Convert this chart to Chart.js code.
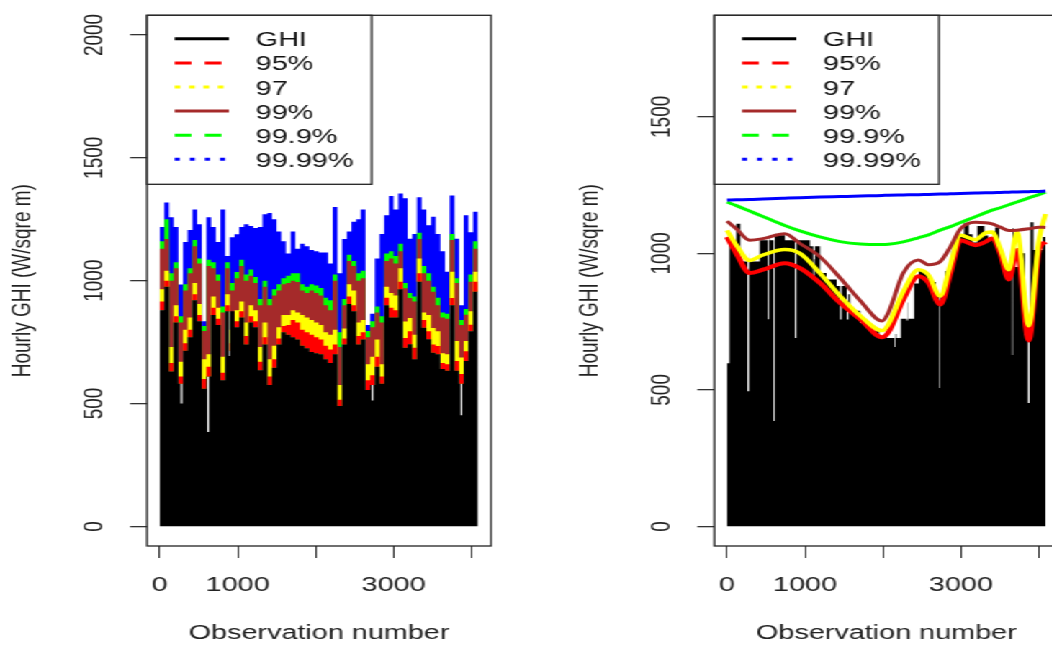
<!DOCTYPE html>
<html>
<head>
<meta charset="utf-8">
<title>Hourly GHI quantiles</title>
<script src="https://cdn.jsdelivr.net/npm/chart.js@4.4.1/dist/chart.umd.min.js"></script>
<style>
  html, body { margin: 0; padding: 0; background: #fff; overflow: hidden; }
  /* the reference is an R plot stretched sideways, so the whole stage is stretched too */
  #stage { position: relative; width: 760px; height: 645px; transform: scaleX(1.44); transform-origin: 0 0; }
  .panel { position: absolute; top: 0; width: 362px; height: 645px; }
  #leftPanel { left: 0; }
  #rightPanel { left: 394.4px; }
</style>
</head>
<body>
<div id="stage">
  <div class="panel" id="leftPanel"><canvas id="leftChart"></canvas></div>
  <div class="panel" id="rightPanel"><canvas id="rightChart"></canvas></div>
</div>
<script>
// ---- data ----
const legendLabels = ['GHI', '95%', '97', '99%', '99.9%', '99.99%'];
const xTicks = [0, 1000, 2000, 3000, 4000];
const xTickLabels = ['0', '1000', '', '3000', ''];
const yTicksLeft = [0, 500, 1000, 1500, 2000];
const yTicksRight = [0, 500, 1000, 1500];

// left panel: daily envelopes, one value per 60 observations
const leftStep = 60;
const leftGhi = [880, 975, 630, 830, 580, 715, 770, 920, 835, 560, 610, 860, 820, 595, 875, 715, 810, 850, 740, 830,
  810, 635, 740, 575, 645, 740, 790, 780, 770, 760, 735, 725, 710, 705, 700, 680, 665, 700, 490, 740,
  905, 875, 740, 760, 555, 575, 650, 580, 900, 850, 850, 965, 727, 741, 680, 996, 808, 762, 707, 700,
  640, 633, 900, 633, 580, 673, 794, 955, 955];
const leftGhiDips = [[269, 500], [611, 384], [885, 693], [2718, 512], [3859, 452]];
const leftQ95 = [915, 1000, 665, 855, 610, 745, 800, 945, 860, 600, 650, 890, 845, 625, 900, 745, 835, 875, 775, 855,
  835, 670, 770, 610, 680, 765, 815, 820, 840, 830, 800, 790, 780, 770, 760, 735, 720, 740, 515, 765,
  935, 900, 775, 790, 595, 615, 690, 610, 930, 890, 880, 996, 767, 794, 727, 1030, 840, 794, 740, 734,
  665, 660, 929, 673, 620, 713, 821, 996, 996];
const leftQ97 = [965, 1040, 730, 900, 670, 800, 850, 990, 905, 680, 700, 935, 890, 690, 945, 800, 880, 915, 830, 900,
  880, 730, 830, 680, 735, 810, 860, 860, 880, 870, 860, 850, 840, 830, 820, 790, 780, 800, 575, 805,
  985, 960, 830, 840, 660, 690, 760, 660, 975, 950, 940, 1050, 834, 848, 780, 1090, 870, 860, 807, 794,
  705, 700, 1036, 754, 687, 754, 875, 1036, 1036];
const leftQ99 = [1130, 1170, 1000, 1050, 830, 960, 1030, 1140, 1070, 795, 1060, 1050, 1000, 870, 1050, 960, 1010, 1060, 1000, 1020,
  990, 900, 975, 900, 940, 960, 985, 990, 1000, 995, 960, 950, 960, 950, 940, 900, 880, 1000, 730, 900,
  1080, 1060, 1000, 1010, 770, 810, 870, 830, 1080, 1090, 1070, 1120, 969, 929, 915, 1170, 1030, 1000, 955, 900,
  850, 845, 1165, 990, 820, 861, 996, 1130, 1130];
const leftQ999 = [1160, 1250, 1030, 1075, 855, 985, 1050, 1165, 1090, 815, 1085, 1075, 1025, 895, 1075, 990, 1035, 1085, 1025, 1045,
  1015, 925, 1000, 925, 965, 985, 1010, 1020, 1030, 1030, 985, 975, 985, 980, 970, 930, 920, 1025, 790, 925,
  1105, 1080, 1030, 1040, 795, 835, 895, 855, 1110, 1120, 1100, 1150, 990, 950, 935, 1195, 1060, 1030, 975, 930,
  870, 865, 1190, 1010, 840, 885, 1025, 1160, 1160];
const leftQ9999 = [1218, 1318, 1258, 1218, 984, 1157, 1206, 1290, 1230, 835, 1258, 1218, 1157, 1290, 1100, 1177, 1189, 1218, 1230, 1222,
  1214, 1218, 1270, 1275, 1250, 1200, 1160, 1110, 1200, 1130, 1150, 1140, 1125, 1120, 1115, 1115, 1070, 1300, 1030, 1170,
  1200, 1240, 1250, 1290, 820, 865, 1090, 1190, 1266, 1345, 1290, 1355, 1335, 1171, 1190, 1339, 1290, 1225, 1260, 1190,
  1120, 1036, 1347, 1171, 900, 1266, 1197, 1280, 1280];

// right panel: GHI envelope and smoothed quantile curves
const rightGhiObs = [0, 30, 120, 172, 283, 420, 540, 613, 742, 891, 1063, 1120, 1192, 1277, 1406, 1470, 1578, 1707, 1850, 1950,
  2050, 2160, 2230, 2320, 2400, 2460, 2530, 2600, 2680, 2730, 2800, 2880, 2960, 3040, 3100, 3150, 3210, 3300, 3350, 3440,
  3490, 3550, 3600, 3665, 3760, 3820, 3890, 3930, 4000, 4050, 4085];
const rightGhiVals = [597, 1036, 1108, 970, 1000, 1048, 1066, 1072, 1048, 1012, 1026, 978, 928, 904, 880, 850, 790, 745, 715, 695,
  690, 705, 760, 820, 890, 935, 925, 895, 850, 835, 935, 1010, 1060, 1111, 1070, 1040, 1100, 1065, 1050, 1095,
  1000, 960, 950, 1092, 1000, 700, 1114, 1012, 1012, 1060, 1060];
const rightGhiDips = [[262, 495], [523, 759], [597, 386], [870, 690], [1106, 904], [1449, 758], [1535, 758],
  [2148, 657], [2302, 754], [2720, 507], [3656, 628], [3858, 452]];
const rightCurveObs = [0, 120, 290, 460, 740, 935, 1190, 1450, 1710, 1990, 2070, 2260, 2455, 2585, 2735, 2865, 2995,
  3185, 3315, 3400, 3505, 3615, 3720, 3870, 4000, 4085];
const rightQ95 = [1060, 1000, 928, 940, 964, 946, 892, 819, 759, 693, 711, 831, 916, 892, 813, 928, 1048,
  1030, 1042, 1054, 1000, 904, 1012, 681, 1012, 1042];
const rightQ97 = [1084, 1030, 974, 994, 1014, 1000, 928, 844, 771, 717, 740, 860, 940, 920, 844, 958, 1066,
  1050, 1075, 1078, 1018, 940, 1078, 735, 1048, 1144];
const rightQ99 = [1118, 1090, 1048, 1054, 1072, 1036, 988, 910, 826, 752, 783, 928, 976, 958, 970, 1024, 1090,
  1114, 1112, 1108, 1096, 1084, 1085, 1090, 1096, 1095];
const rightQ999 = [1188, 1175, 1155, 1135, 1102, 1082, 1060, 1043, 1034, 1032, 1033, 1042, 1057, 1068, 1085, 1098, 1113,
  1134, 1149, 1158, 1167, 1178, 1188, 1203, 1215, 1224];
const rightQ9999 = [1195, 1196, 1197, 1199, 1202, 1204, 1206, 1208, 1210, 1212, 1213, 1214, 1215, 1216, 1217, 1218, 1219,
  1221, 1222, 1222, 1223, 1224, 1225, 1226, 1227, 1228];

// ---- styles ----
const seriesColors = ['#000000', '#ff0000', '#ffff00', '#a52a2a', '#00ff00', '#0000ff'];
const legendDashes = [[], [11.6, 9.3], [4, 6], [], [11.6, 9.3], [3.5, 7]];
const FONT = "'Liberation Sans', Arial, sans-serif";
Chart.defaults.font.family = FONT;
Chart.defaults.color = '#222';

function toPoints(obs, vals) {
  return obs.map((x, i) => ({x: x, y: vals[i]}));
}

// low days show up as thin white gaps cut into the black
function withDips(obs, vals, dips) {
  const pts = toPoints(obs, vals);
  dips.forEach(([d, low]) => {
    let j = 0;
    while (j + 1 < obs.length && obs[j + 1] <= d) j++;
    pts.push({x: d, y: low}, {x: d + 22, y: vals[j]});
  });
  return pts.sort((a, b) => a.x - b.x);
}

const leftObs = leftGhi.map((_, i) => i * leftStep);

// box round the plot and the R style legend in its top left corner
const frame = {
  id: 'frame',
  afterDraw(chart) {
    const ctx = chart.ctx;
    const a = chart.chartArea;
    ctx.save();
    ctx.strokeStyle = '#222';
    ctx.lineWidth = 1.3;
    ctx.strokeRect(a.left, a.top, a.right - a.left, a.bottom - a.top);

    const lx = a.left, ly = a.top, lw = 156, lh = 169;
    ctx.fillStyle = '#fff';
    ctx.fillRect(lx, ly, lw, lh);
    ctx.strokeRect(lx, ly, lw, lh);
    ctx.font = '20px ' + FONT;
    ctx.textBaseline = 'middle';
    legendLabels.forEach((label, i) => {
      const y = ly + 23.5 + i * 24.1;
      ctx.beginPath();
      ctx.setLineDash(legendDashes[i]);
      ctx.strokeStyle = seriesColors[i];
      ctx.lineWidth = 3;
      ctx.moveTo(lx + 19.2, y);
      ctx.lineTo(lx + 56.9, y);
      ctx.stroke();
      ctx.setLineDash([]);
      ctx.fillStyle = '#111';
      ctx.fillText(label, lx + 75.5, y + 2);
    });
    ctx.restore();
  }
};

function scales(yMin, yMax, yTicks) {
  return {
    x: {
      type: 'linear',
      min: -162,
      max: 4250,
      afterBuildTicks: s => { s.ticks = xTicks.map(v => ({value: v})); },
      afterFit: s => { s.height = 99; },
      grid: {display: true, drawOnChartArea: false, drawTicks: true, tickLength: 12, color: '#333', lineWidth: 1},
      border: {display: false},
      ticks: {autoSkip: false, maxRotation: 0, minRotation: 0, padding: 15, color: '#222',
        font: {size: 20}, callback: (v, i) => xTickLabels[i]},
      title: {display: true, text: 'Observation number', color: '#222', font: {size: 20}, padding: {top: 0, bottom: 0}}
    },
    y: {
      type: 'linear',
      min: yMin,
      max: yMax,
      afterBuildTicks: s => { s.ticks = yTicks.map(v => ({value: v})); },
      afterFit: s => { s.width = 102.1; },
      grid: {display: true, drawOnChartArea: false, drawTicks: true, tickLength: 11.8, color: '#333', lineWidth: 1.3},
      border: {display: false},
      ticks: {autoSkip: false, minRotation: 90, maxRotation: 90, crossAlign: 'center', padding: 3.9,
        color: '#222', font: {size: 19}, callback: v => String(v)},
      title: {display: true, text: 'Hourly GHI (W/sqre m)', color: '#222', font: {size: 19}, padding: {top: 4.6, bottom: 0}}
    }
  };
}

const commonOptions = {
  responsive: true,
  maintainAspectRatio: false,
  animation: false,
  layout: {padding: {left: 0, top: 11, right: 21, bottom: 0}},
  elements: {point: {radius: 0, hoverRadius: 0}},
  plugins: {legend: {display: false}, tooltip: {enabled: false}}
};

// left: quantile bands stacked on the daily GHI envelope (dataset 1), widest at the back
function band(label, vals, color, order) {
  return {label: label, data: toPoints(leftObs, vals), stepped: true, fill: 1,
    backgroundColor: color, borderColor: 'transparent', borderWidth: 0, order: order};
}

new Chart(document.getElementById('leftChart'), {
  type: 'line',
  data: {
    datasets: [
      {label: 'GHI', data: withDips(leftObs, leftGhi, leftGhiDips), stepped: true, fill: 'origin',
        backgroundColor: seriesColors[0], borderColor: 'transparent', borderWidth: 0, order: 1},
      {label: 'GHI envelope', data: toPoints(leftObs, leftGhi), stepped: true, fill: false,
        borderColor: 'transparent', borderWidth: 0, order: 7},
      band('95%', leftQ95, seriesColors[1], 2),
      band('97', leftQ97, seriesColors[2], 3),
      band('99%', leftQ99, seriesColors[3], 4),
      band('99.9%', leftQ999, seriesColors[4], 5),
      band('99.99%', leftQ9999, seriesColors[5], 6)
    ]
  },
  options: Object.assign({}, commonOptions, {scales: scales(-80, 2080, yTicksLeft)}),
  plugins: [frame]
});

// right: smooth quantile curves over the GHI envelope
function curve(label, vals, color, width, order) {
  return {label: label, data: toPoints(rightCurveObs, vals), cubicInterpolationMode: 'monotone', fill: false,
    borderColor: color, borderWidth: width, order: order};
}

new Chart(document.getElementById('rightChart'), {
  type: 'line',
  data: {
    datasets: [
      {label: 'GHI', data: withDips(rightGhiObs, rightGhiVals, rightGhiDips), stepped: true, fill: 'origin',
        backgroundColor: seriesColors[0], borderColor: 'transparent', borderWidth: 0, order: 10},
      curve('95%', rightQ95, seriesColors[1], 4, 6),
      curve('97', rightQ97, seriesColors[2], 3.5, 5),
      curve('99%', rightQ99, seriesColors[3], 3, 4),
      curve('99.9%', rightQ999, seriesColors[4], 3, 3),
      curve('99.99%', rightQ9999, seriesColors[5], 3, 2)
    ]
  },
  options: Object.assign({}, commonOptions, {scales: scales(-72, 1872, yTicksRight)}),
  plugins: [frame]
});
</script>
</body>
</html>
